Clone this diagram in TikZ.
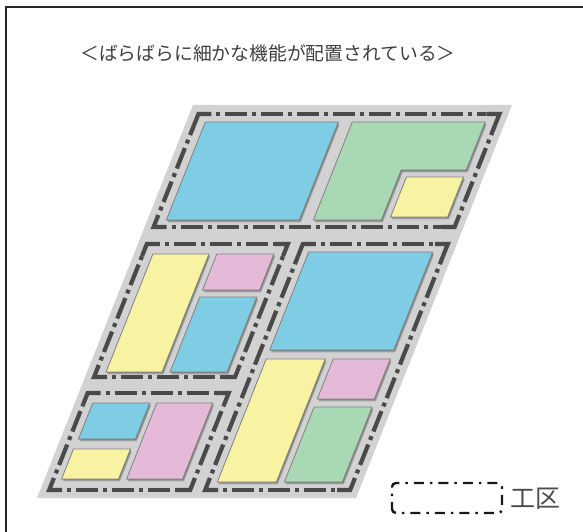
\documentclass[tikz,border=0pt]{standalone}
\usepackage{fontspec}
\newfontfamily\jp{Noto Sans CJK JP}
\definecolor{bgc}{HTML}{D2D2D2}
\definecolor{dashc}{HTML}{4A4A4A}
\definecolor{cblue}{HTML}{7ECDE4}
\definecolor{cgreen}{HTML}{A9D8B5}
\definecolor{cyellow}{HTML}{F7F3A2}
\definecolor{cpink}{HTML}{E5BAD9}
\tikzset{
  blk/.style={draw=black!50, line width=0.8pt},
  zline/.style={draw=dashc, line width=4.2pt, dash pattern=on 22pt off 5pt on 4pt off 5pt, dash phase=22pt},
  zcorner/.style={draw=dashc, line width=4.2pt},
  shad/.style={fill=black, opacity=0.22},
}
\newcommand\zonebox[4]{%
  \draw[zcorner] (#1,#2+12) -- (#1,#2) -- (#1+13,#2);
  \draw[zcorner] (#3-13,#2) -- (#3,#2) -- (#3,#2+12);
  \draw[zcorner] (#3,#4-12) -- (#3,#4) -- (#3-13,#4);
  \draw[zcorner] (#1+13,#4) -- (#1,#4) -- (#1,#4-12);
  \draw[zline] (#1+13,#2) -- (#3-13,#2);
  \draw[zline] (#1+13,#4) -- (#3-13,#4);
  \draw[zline] (#1,#2+12) -- (#1,#4-12);
  \draw[zline] (#3,#2+12) -- (#3,#4-12);
}
\newcommand\blockbox[5]{%
  \fill[shad,shift={(2.4,-2.4)}] (#2,#3) -- (#4,#3) -- (#4,#5) -- (#2,#5) -- cycle;
  \fill[shad,shift={(1.2,-1.2)}] (#2,#3) -- (#4,#3) -- (#4,#5) -- (#2,#5) -- cycle;
  \filldraw[blk,fill=#1] (#2,#3) -- (#4,#3) -- (#4,#5) -- (#2,#5) -- cycle;
}
\begin{document}
\begin{tikzpicture}[x=1pt,y=1pt]
\useasboundingbox (0,0) rectangle (583,531);
\clip (0,0) rectangle (583,531);
\fill[white] (0,0) rectangle (583,531);
\draw[line width=1.8pt, black!85] (6,-10) -- (6,524) -- (600,524);
\node[font=\jp\fontsize{18.8}{20}\selectfont, text=black!75] (title) at (268,478) {＜ばらばらに細かな機能が配置されている＞};

\begin{scope}[shift={(0,33)}, xslant=0.397]
  \fill[bgc] (37,0) -- (356,0) -- (356,393) -- (37,393) -- cycle;
  \zonebox{46}{271}{347}{384}
  \zonebox{46}{121}{187}{254}
  \zonebox{202}{8}{347}{254}
  \zonebox{46}{8}{187}{105}
  % zone 1
  \blockbox{cblue}{56}{278}{189}{376}
  \fill[shad,shift={(2.4,-2.4)}] (203,278) -- (203,376) -- (336,376) -- (336,328) -- (271,328) -- (271,278) -- cycle;
  \fill[shad,shift={(1.2,-1.2)}] (203,278) -- (203,376) -- (336,376) -- (336,328) -- (271,328) -- (271,278) -- cycle;
  \filldraw[blk,fill=cgreen] (203,278) -- (203,376) -- (336,376) -- (336,328) -- (271,328) -- (271,278) -- cycle;
  \blockbox{cyellow}{279}{281}{336}{321}
  % zone 2
  \blockbox{cyellow}{56}{126}{112}{244}
  \blockbox{cpink}{120}{208}{177}{244}
  \blockbox{cblue}{120}{126}{177}{201}
  % zone 3
  \blockbox{cblue}{211}{148}{335}{246}
  \blockbox{cyellow}{211}{16}{270}{139}
  \blockbox{cpink}{278}{99}{335}{139}
  \blockbox{cgreen}{278}{16}{336}{91}
  % zone 4
  \blockbox{cblue}{55}{59}{112}{95}
  \blockbox{cyellow}{54}{19}{111}{49}
  \blockbox{cpink}{119}{19}{175}{95}
\end{scope}

\draw[black!90, line width=2.4pt, rounded corners=4pt, dash pattern=on 10pt off 6pt on 2.5pt off 6pt, dash phase=3pt] (392,18) rectangle (502,48);
\node[font=\jp\fontsize{25}{26}\selectfont, text=black!70, anchor=west] (legend) at (507,32) {工区};
\end{tikzpicture}
\end{document}
